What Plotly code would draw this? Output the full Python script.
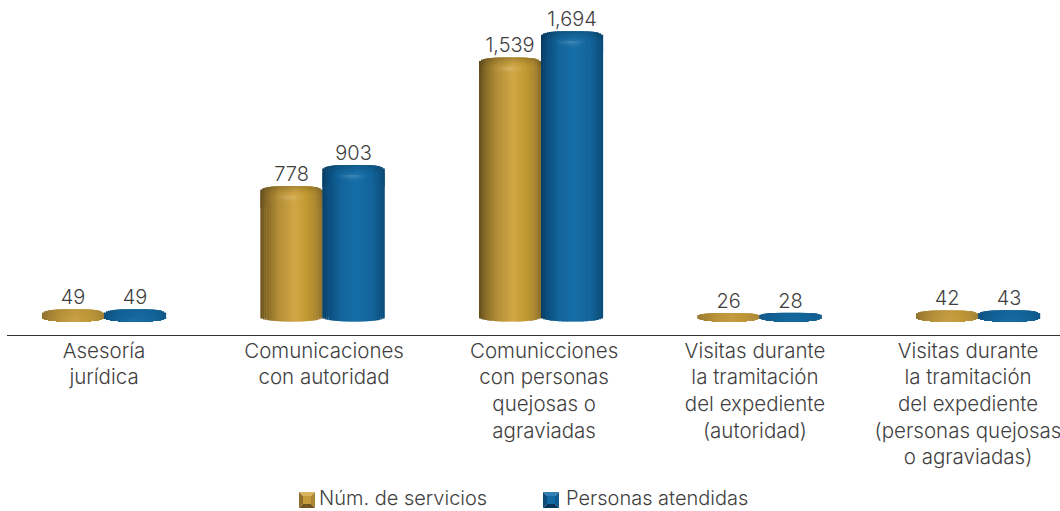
import plotly.graph_objects as go
import numpy as np

categories = ["Asesoría<br>jurídica",
              "Comunicaciones<br>con autoridad",
              "Comunicciones<br>con personas<br>quejosas o<br>agraviadas",
              "Visitas durante<br>la tramitación<br>del expediente<br>(autoridad)",
              "Visitas durante<br>la tramitación<br>del expediente<br>(personas quejosas<br>o agraviadas)"]
label_positions = [0, 1.007, 2.014, 2.979, 3.954]
servicios = [49, 778, 1539, 26, 42]
personas = [49, 903, 1694, 28, 43]
series_names = ["Núm. de servicios", "Personas atendidas"]

FONT = "Inter"
TXT = "#3f3f3f"
W, H = 1060, 511
ML, PLOT_H = 7, 335
Y0, Y1 = -103.0, 1879.0
X0, X1 = -0.444, 4.375
px_y = PLOT_H / (Y1 - Y0)
px_x = (W - ML) / (X1 - X0)
BAR_W = 62 / px_x

gold = [(-1, "#634d1e"), (-.75, "#8e702a"), (-.4, "#b59038"), (.1, "#d2a746"),
        (.5, "#c29a32"), (.8, "#ab8832"), (1, "#8a6c2c")]
blue = [(-1, "#0a3d63"), (-.8, "#0c4f7f"), (-.4, "#13659b"), (.1, "#176fa8"),
        (.6, "#14659b"), (.85, "#0f5685"), (1, "#0c4c7a")]


def hexrgb(h):
    return np.array([int(h[i:i + 2], 16) for i in (1, 3, 5)], float)


def ramp(stops, u):
    xs = [s[0] for s in stops]
    cols = np.array([hexrgb(s[1]) for s in stops])
    return np.array([np.interp(u, xs, cols[:, k]) for k in range(3)])


def shade(c, f):
    if f >= 1:
        c = c + (255 - c) * (f - 1)
    else:
        c = c * f
    return "rgb(%d,%d,%d)" % tuple(np.clip(c, 0, 255))


N_STRIPS = 31
STEP = BAR_W / N_STRIPS
LAYERS = [0, 2, 4, 6, 8, 10, 12, 14, 16]  # cap slices, px below the top
LAYER_F = [0.82, 0.88, 0.93, 0.98, 1.06, 1.20, 1.10, 1.03, 1.0]

fig = go.Figure()


def top_px(v, u):
    vp = v * px_y
    h = min(7.0, vp * 0.8)
    return vp - h * (1 - (1 - abs(u) ** 3.2) ** (1 / 3.2))


def bot_px(u):
    return -4.0 * np.sqrt(max(0, 1 - u * u))


def flatness(v):
    # short discs carry almost no cylinder shading
    return float(np.clip(v * px_y / 40.0, 0, 1))


for sign, vals, stops in ((-1, servicios, gold), (1, personas, blue)):
    left = sign * BAR_W / 2 - BAR_W / 2
    mid = ramp(stops, 0)
    fig.add_trace(go.Bar(x=list(range(5)), base=[0] * 5,
                         y=[max(0, v - 8 / px_y) for v in vals],
                         offset=left, width=BAR_W,
                         marker=dict(color=shade(mid, .9), line_width=0),
                         showlegend=False, hoverinfo="skip"))
    for j in range(N_STRIPS):
        u = (j + .5) / N_STRIPS * 2 - 1
        off = left + j * STEP
        wid = STEP * (1.6 if abs(u) < 0.8 else 1.02)
        col = ramp(stops, u)
        strip_cols = [col * (.35 + .65 * flatness(v)) + shade_mid
                      for v, shade_mid in ((v, mid * .93 * (1 - (.35 + .65 * flatness(v)))) for v in vals)]
        tops = [top_px(v, u) for v in vals]
        bot = bot_px(u)
        fig.add_trace(go.Bar(x=list(range(5)),
                             base=[bot / px_y] * 5,
                             y=[(t - bot) / px_y for t in tops],
                             offset=off, width=wid,
                             marker=dict(color=[shade(c, 1) for c in strip_cols], line_width=0),
                             showlegend=False, hoverinfo="skip"))
        glow = max(0.0, 1 - abs(u + .05) / .5)
        for k, d in enumerate(LAYERS):
            f = LAYER_F[k]
            if f > 1:
                f = 1 + (f - 1) * glow
            else:
                f = 1 - (1 - f) * (1 - 0.3 * abs(u))
            hi = [t - d for t in tops]
            lo = [max(t - d - 2.4, bot) for t in tops]
            bases = [l / px_y for l in lo]
            ys = [max(0, (a - b)) / px_y for a, b in zip(hi, lo)]
            colors = [shade(c, 1 + (f - 1) * flatness(v)) for c, v in zip(strip_cols, vals)]
            fig.add_trace(go.Bar(x=list(range(5)), base=bases, y=ys,
                                 offset=off, width=wid,
                                 marker=dict(color=colors, line_width=0),
                                 showlegend=False, hoverinfo="skip"))

# data labels
for sign, vals in ((-1, servicios), (1, personas)):
    fig.add_trace(go.Scatter(x=[i + sign * BAR_W / 2 for i in range(5)], y=vals,
                             mode="text", text=[f"{v:,}" for v in vals],
                             textposition="top center",
                             textfont=dict(family=FONT, size=20, color=TXT, weight=300),
                             cliponaxis=False, showlegend=False, hoverinfo="skip"))


# legend (swatches + real text)
def xp(p):
    return (p - ML) / (W - ML)


def yp(p):
    return (PLOT_H - p) / PLOT_H


def poly(pts, color):
    path = "M " + " L ".join(f"{xp(a):.5f},{yp(b):.5f}" for a, b in pts) + " Z"
    return dict(type="path", xref="paper", yref="paper", path=path,
                fillcolor=color, line_width=0, layer="above")


shapes = []
for (x0, tx, name, c_top, c_left, c_right, c_bot, c_mid) in (
        (299, 318.5, series_names[0], "#d9b65e", "#8f6f2a", "#a98632", "#6f5520", "#c39a3c"),
        (543, 565, series_names[1], "#2f7fb5", "#0c4c7a", "#0f5a8f", "#08365a", "#14689f")):
    a, b, s = x0, 492, 16
    i = 4
    shapes += [poly([(a, b), (a + s, b), (a + s - i, b + i), (a + i, b + i)], c_top),
               poly([(a, b), (a + i, b + i), (a + i, b + s - i), (a, b + s)], c_left),
               poly([(a + s, b), (a + s - i, b + i), (a + s - i, b + s - i), (a + s, b + s)], c_right),
               poly([(a, b + s), (a + i, b + s - i), (a + s - i, b + s - i), (a + s, b + s)], c_bot),
               poly([(a + i, b + i), (a + s - i, b + i), (a + s - i, b + s - i), (a + i, b + s - i)], c_mid)]
    fig.add_annotation(x=xp(tx), y=yp(498.5), xref="paper", yref="paper", text=name,
                       showarrow=False, xanchor="left", yanchor="middle",
                       borderpad=0,
                       font=dict(family=FONT, size=20, color=TXT, weight=300))

fig.update_layout(
    width=W, height=H, autosize=False,
    barmode="overlay",
    paper_bgcolor="white", plot_bgcolor="white",
    margin=dict(l=ML, r=0, t=0, b=H - PLOT_H, autoexpand=False),
    shapes=shapes, showlegend=False,
    xaxis=dict(range=[X0, X1], tickmode="array", tickvals=label_positions,
               ticktext=categories, showgrid=False, zeroline=False,
               showline=True, linecolor="#333333", linewidth=1.3, ticks="",
               tickangle=0, ticklabeloverflow="allow", ticklabelstandoff=-3,
               tickfont=dict(family=FONT, size=20.5, color=TXT, weight=300)),
    yaxis=dict(range=[Y0, Y1], visible=False, showgrid=False, zeroline=False),
)
fig.write_html("out.html", config=dict(displayModeBar=False),
               post_script="document.body.style.margin='0';document.documentElement.style.overflow='hidden';")
